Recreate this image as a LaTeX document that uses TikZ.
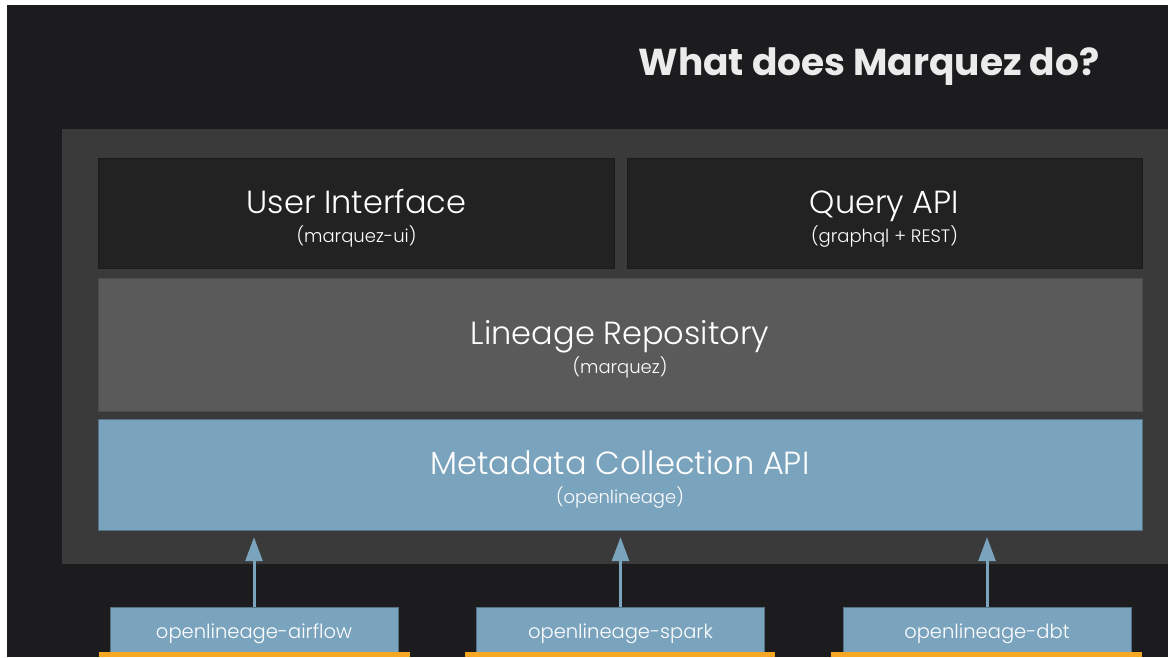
\documentclass[tikz,border=0pt]{standalone}
\usepackage{fontspec}
\usepackage{tikz}
\usetikzlibrary{positioning,arrows.meta}
\setmainfont{Poppins}
\newfontfamily\gothic{Poppins Light}
\definecolor{pagebg}{HTML}{1C1C1E}
\definecolor{serverbg}{HTML}{3A3A3A}
\definecolor{darkbox}{HTML}{222222}
\definecolor{repobox}{HTML}{5A5A5A}
\definecolor{olblue}{HTML}{7AA3BE}
\definecolor{olorange}{HTML}{F5A623}
\newcommand{\layer}[2]{{\fontsize{32}{34}\selectfont\raisebox{0pt}[31pt][0pt]{#1}}\\[17pt]{\fontsize{18}{18}\selectfont\raisebox{0pt}[0pt][2pt]{#2}}}

\begin{document}
\begin{tikzpicture}[x=1pt,y=-1pt,
  box/.style={inner sep=0pt,text=white,align=center,font=\gothic},
  feed/.style={inner sep=0pt,text=white,fill=olblue,draw=olblue!70!black,line width=0.8pt,minimum width=288pt,minimum height=45pt,text height=17pt,text depth=0pt,font=\gothic\fontsize{19.5}{22}\selectfont},
  flow/.style={-{Triangle[width=17pt,length=24pt]},olblue,line width=3pt,shorten >=7pt}]
\useasboundingbox (0,0) rectangle (1168,657);
\fill[white] (0,0) rectangle (1168,657);
\fill[pagebg] (7,5) rectangle (1168,657);
\node[anchor=center,font=\bfseries\fontsize{37.5}{42}\selectfont,text=white!92!black] (title) at (869,67) {What does Marquez do?};
\fill[serverbg] (62,129) rectangle (1168,564);
\node[box,fill=darkbox,draw=darkbox!80!black,minimum width=516pt,minimum height=110pt] (ui) at (356.5,213.5) {\layer{User Interface}{(marquez-ui)}};
\node[box,fill=darkbox,draw=darkbox!80!black,minimum width=515pt,minimum height=110pt] (api) at (884.5,213.5) {\layer{Query API}{(graphql + REST)}};
\node[box,fill=repobox,draw=repobox!85!black,minimum width=1044pt,minimum height=133pt] (repo) at (620,344.5) {\layer{Lineage Repository}{(marquez)}};
\node[box,fill=olblue,draw=olblue!70!black,minimum width=1044pt,minimum height=111pt] (mca) at (620,474.5) {\layer{Metadata Collection API}{(openlineage)}};
% integrations
\node[feed] (airflow) at (254,629.5) {openlineage-airflow};
\node[feed] (spark) at (620.5,629.5) {openlineage-spark};
\node[feed] (dbt) at (987,629.5) {openlineage-dbt};
\fill[olorange] (99,652) rectangle (410,657);
\fill[olorange] (465,652) rectangle (775,657);
\fill[olorange] (831,652) rectangle (1142,657);
\draw[flow] (airflow) -- (airflow |- mca.south);
\draw[flow] (spark) -- (spark |- mca.south);
\draw[flow] (dbt) -- (dbt |- mca.south);
\end{tikzpicture}
\end{document}
